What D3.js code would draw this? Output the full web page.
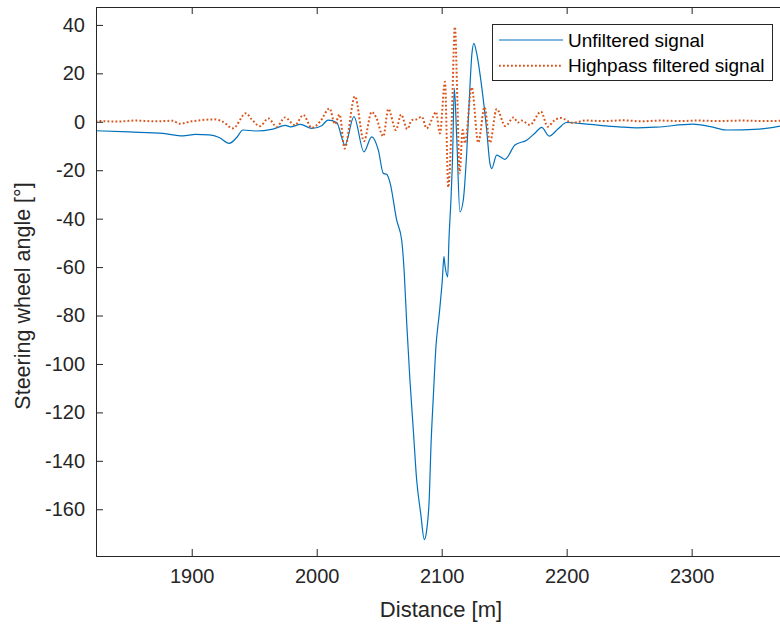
<!DOCTYPE html>
<html>
<head>
<meta charset="utf-8">
<script src="https://cdn.jsdelivr.net/npm/d3@7"></script>
<style>
  html, body { margin: 0; padding: 0; background: #fff; }
  svg { display: block; }
</style>
</head>
<body>
<div id="chart"></div>
<script>
// Unfiltered steering wheel angle
const rawDist = [1823, 1850, 1877, 1893, 1903, 1914, 1922, 1930, 1936, 1941, 1951, 1965, 1975, 1979, 1987,
  1996, 2004, 2009, 2016, 2022.6, 2029.8, 2037.8, 2044, 2049.3, 2053.3, 2056, 2058.6, 2064, 2068, 2070,
  2072, 2074.6, 2077.3, 2080, 2083.2, 2086.1, 2088, 2090.1, 2091.4, 2093.3, 2095.4, 2098.1, 2100.5, 2101.8,
  2102.6, 2104.8, 2105.8, 2107.4, 2108.8, 2110.1, 2112, 2114.6, 2117.3, 2120, 2122.6, 2124.2, 2125.8, 2128,
  2132, 2136, 2138.6, 2140, 2144, 2147, 2150.6, 2158.6, 2168, 2175, 2180, 2186, 2193, 2200, 2218.6, 2242,
  2256, 2272, 2301, 2315, 2328, 2354, 2376];
const rawAngle = [-3.7, -4.2, -4.8, -5.8, -5.2, -5.4, -6.5, -8.9, -6.5, -3.4, -3.8, -3.0, -1.5, -2.1, -1.1,
  -2.7, -1.6, 0.7, -0.3, -9.6, 2.1, -12.4, -6.2, -11.7, -21.3, -21.7, -25, -40.6, -48.9, -62,
  -83, -106.7, -127.3, -148, -161.7, -172.5, -168.6, -154.9, -134.2, -113.6, -92.9, -79.1, -65.4, -55.7,
  -59.2, -64, -48.9, -32.3, -13, 13.8, -6.2, -37.2, -32.3, -13, 14.5, 28.2, 32.4, 28.2,
  14.5, -3.4, -17.2, -19.3, -13.8, -14.5, -15.5, -9.6, -7.6, -4.5, -2.3, -5.9, -3, -0.3, -1.1, -2.1,
  -2.5, -2.2, -1.0, -2.0, -3.4, -3.0, -1.3];

// Highpass filtered angle
const hpDist = [1823, 1840, 1855, 1870, 1885, 1890, 1900, 1910, 1918, 1925, 1933, 1943.4, 1948, 1954.6,
  1961.3, 1968, 1974.6, 1982.6, 1989.3, 1996, 2002.6, 2010.3, 2014.6, 2018.3, 2022.3, 2030.6, 2037.8, 2044,
  2047.4, 2053.3, 2057.3, 2063.4, 2067.5, 2072.5, 2076, 2080, 2084, 2088, 2093.3, 2095.4, 2098.6, 2102.6,
  2105.3, 2108, 2110.6, 2112.5, 2114.3, 2116.8, 2118.6, 2124, 2129.3, 2134.3, 2138.6, 2144, 2151, 2157.5,
  2161, 2164, 2170.6, 2179.5, 2184.8, 2190, 2195, 2205, 2215, 2230, 2245, 2260, 2275, 2290, 2305, 2320,
  2340, 2360, 2376];
const hpAngle = [0.4, 0.1, 0.5, 0.2, 0.4, -0.8, 0.2, 0.8, 1.0, 0, -2.7, 3.5, 1, -1.8,
  1.4, -2.1, 1.8, -1.4, 2.8, -2.5, 0, 5.5, -1.0, 3.0, -11, 10.5, -8, 4.1,
  2, -6, 5.3, -3.4, 3.0, -3, 0.7, 1.0, 2.1, -2.7, 2.3, 4.1, -4.8, 16.5,
  -27, 0, 39.2, 10, -21.3, -3.4, -8.9, 14.2, -8.6, 6.0, -8.6, 5.3, -1.8, 1.8,
  -0.3, 0.5, -1.3, 4.2, -2.0, 0.5, 1.6, -0.4, 0.5, 0.3, 0.6, 0.2, 0.5, 0.3, 0.5, 0.3,
  0.5, 0.3, 0.5];

const xTicks = [1900, 2000, 2100, 2200, 2300];
const yTicks = [-160, -140, -120, -100, -80, -60, -40, -20, 0, 20, 40];
const seriesNames = ['Unfiltered signal', 'Highpass filtered signal'];

const W = 780, H = 626;
const margin = { left: 96, top: 7, right: -6, bottom: 70 };
const axisColor = '#262626';
const font = '"Liberation Sans", Arial, Helvetica, sans-serif';

const svg = d3.select('#chart').append('svg')
  .attr('width', W)
  .attr('height', H);

const x = d3.scaleLinear()
  .domain([1823.4, 2375.5])
  .range([margin.left, W - margin.right]);

const y = d3.scaleLinear()
  .domain([-179.3, 47.4])
  .range([H - margin.bottom, margin.top]);

const x0 = x.range()[0], x1 = x.range()[1];
const y0 = y.range()[0], y1 = y.range()[1];

svg.append('clipPath').attr('id', 'plot-clip')
  .append('rect')
  .attr('x', x0).attr('y', y1)
  .attr('width', x1 - x0).attr('height', y0 - y1);

// Lines
const line = d3.line()
  .x((d) => x(d[0]))
  .y((d) => y(d[1]))
  .curve(d3.curveMonotoneX);

const plot = svg.append('g').attr('clip-path', 'url(#plot-clip)');

plot.append('path')
  .datum(d3.zip(rawDist, rawAngle))
  .attr('d', line)
  .attr('fill', 'none')
  .attr('stroke', '#0072BD')
  .attr('stroke-width', 1.2);

plot.append('path')
  .datum(d3.zip(hpDist, hpAngle))
  .attr('d', line)
  .attr('fill', 'none')
  .attr('stroke', '#D95319')
  .attr('stroke-width', 2)
  .attr('stroke-dasharray', '1.8,2.2');

// Axes (MATLAB style: ticks inside, box on top)
const xAxis = d3.axisBottom(x).tickValues(xTicks).tickSize(-7).tickPadding(13)
  .tickFormat((d) => String(d));
const gx = svg.append('g')
  .attr('transform', `translate(0,${y0})`)
  .call(xAxis);

const yAxis = d3.axisLeft(y).tickValues(yTicks).tickSize(-7).tickPadding(11)
  .tickFormat((d) => String(d));
const gy = svg.append('g')
  .attr('transform', `translate(${x0},0)`)
  .call(yAxis);

// top tick marks
const gTop = svg.append('g')
  .attr('transform', `translate(0,${y1})`)
  .call(d3.axisTop(x).tickValues(xTicks).tickSize(-7).tickFormat(''));

[gx, gy, gTop].forEach((g) => {
  g.select('.domain').attr('stroke', axisColor).attr('stroke-width', 1);
  g.selectAll('.tick line').attr('stroke', axisColor).attr('stroke-width', 1);
  g.selectAll('.tick text')
    .attr('fill', axisColor)
    .attr('font-family', font)
    .attr('font-size', '20px');
});

// Axis labels
svg.append('text')
  .attr('x', (x0 + x1) / 2)
  .attr('y', 617)
  .attr('text-anchor', 'middle')
  .attr('font-family', font)
  .attr('font-size', '22px')
  .attr('fill', axisColor)
  .text('Distance [m]');

svg.append('text')
  .attr('transform', 'translate(30,296) rotate(-90)')
  .attr('text-anchor', 'middle')
  .attr('font-family', font)
  .attr('font-size', '21.5px')
  .attr('fill', axisColor)
  .text('Steering wheel angle [°]');

// Legend
const legend = svg.append('g').attr('transform', 'translate(492.5,24.5)');
legend.append('rect')
  .attr('width', 280)
  .attr('height', 56)
  .attr('fill', '#fff')
  .attr('stroke', axisColor)
  .attr('stroke-width', 1);

const legendStyles = [
  { color: '#0072BD', width: 1.2, dash: null },
  { color: '#D95319', width: 2, dash: '1.8,2.2' }
];

seriesNames.forEach((name, i) => {
  const ly = 15.5 + i * 25.7;
  legend.append('line')
    .attr('x1', 6.5).attr('x2', 70.5)
    .attr('y1', ly).attr('y2', ly)
    .attr('stroke', legendStyles[i].color)
    .attr('stroke-width', legendStyles[i].width)
    .attr('stroke-dasharray', legendStyles[i].dash);
  legend.append('text')
    .attr('x', 75.5)
    .attr('y', ly)
    .attr('dy', '0.35em')
    .attr('font-family', font)
    .attr('font-size', '19px')
    .attr('fill', '#000')
    .text(name);
});
</script>
</body>
</html>
